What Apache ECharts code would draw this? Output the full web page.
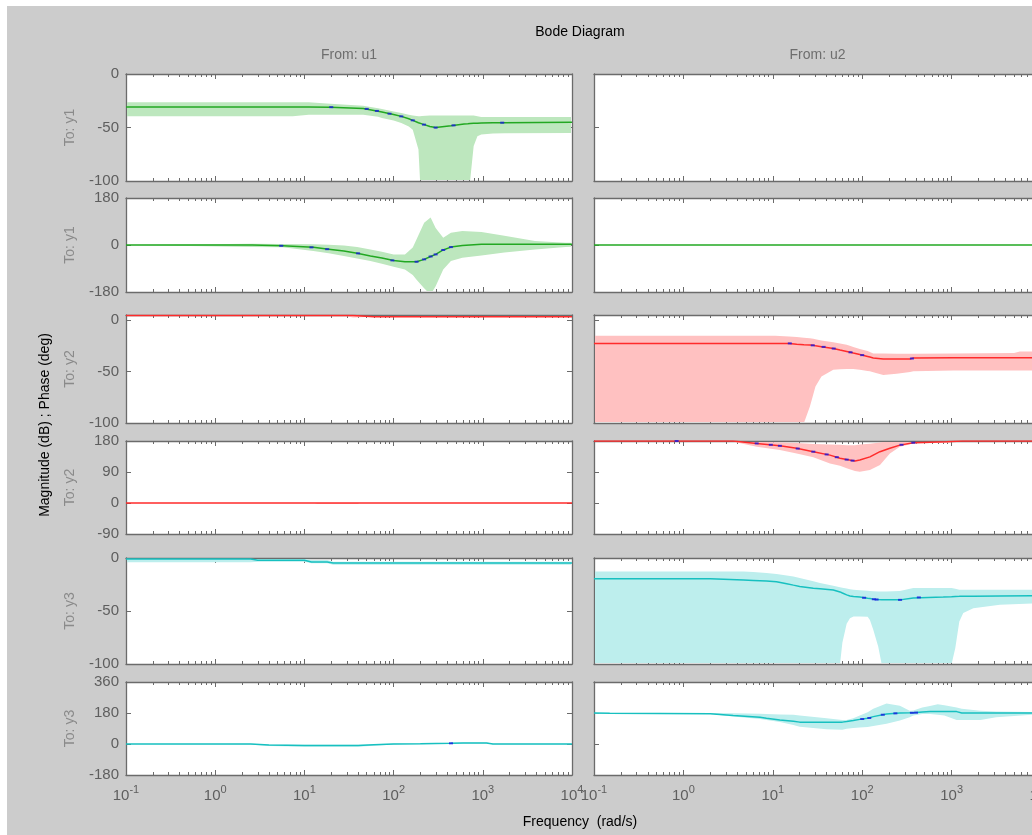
<!DOCTYPE html>
<html><head><meta charset="utf-8">
<script src="https://cdn.jsdelivr.net/npm/echarts@6/dist/echarts.min.js"></script>
<style>
html,body{margin:0;padding:0;background:#fff;}
#wrap{position:relative;width:1032px;height:835px;overflow:hidden;background:#fff;}
#bg{position:absolute;left:7px;top:6px;right:0;bottom:0;background:#cccccc;}
#chart{position:absolute;left:0;top:0;width:1032px;height:835px;}
</style></head><body>
<div id="wrap"><div id="bg"></div><div id="chart"></div></div>
<script>
// ---------------- DATA ----------------
const titleText = 'Bode Diagram';
const inputNames = ['u1', 'u2'];
const outputNames = ['y1', 'y2', 'y3'];
const xLabelText = 'Frequency  (rad/s)';
const yLabelText = 'Magnitude (dB) ; Phase (deg)';
const xMin = 0.1, xMax = 10000;
const xTickExponents = [-1, 0, 1, 2, 3, 4];
const magTicks = [-100, -50, 0];
const phaseTicksY1 = [-180, 0, 180];
const phaseTicksY2 = [-90, 0, 90, 180];
const phaseTicksY3 = [-180, 0, 180, 360];

// From u1 -> y1 magnitude
const fY1U1Mag = [0.1, 7.4, 11.2, 19.5, 45.6, 67, 74, 100, 122, 148, 164, 190, 198, 208, 255, 296, 440, 617, 680, 720, 790, 870, 960, 1300, 1740, 10000];
const nomY1U1Mag = [-30.9, -30.9, -30.9, -31.0, -32.2, -34.8, -35.5, -37.8, -39.6, -41.8, -43.3, -45.5, -46.0, -46.6, -49.0, -50.1, -48.3, -46.7, -46.5, -46.3, -46.1, -46.0, -45.8, -45.6, -45.5, -45.2];
const upY1U1Mag = [-26.3, -26.3, -26.3, -27.8, -29.7, -31.9, -32.7, -35.0, -36.5, -38.0, -38.8, -39.5, -39.6, -39.3, -38.7, -38.7, -38.7, -38.7, -38.7, -38.7, -38.7, -39.5, -40.2, -40.2, -40.2, -40.2];
const loY1U1Mag = [-39.6, -39.6, -38.0, -38.0, -38.0, -40.0, -41.1, -43.5, -45.8, -49.0, -52.0, -70.5, -100, -140, -140, -140, -140, -140, -140, -100, -67.4, -58.2, -56.5, -55.7, -55.4, -55.1];
const mkfY1U1Mag = [20, 50, 65, 90, 122, 164, 219, 296, 470, 1650];
const mkvY1U1Mag = [-31.0, -32.6, -34.5, -37.1, -39.6, -43.3, -47.3, -50.1, -48.0, -45.5];

// From u1 -> y1 phase
const fY1U1Ph = [0.1, 2.6, 5.7, 12.6, 18.7, 27.7, 39, 55, 74, 100, 134, 164, 181, 220, 260, 296, 360, 439, 590, 966, 1746, 3846, 8470, 10000];
const nomY1U1Ph = [0, 0, -3, -9, -16, -23, -32, -42, -50, -59, -64, -64, -64, -55, -44, -36, -19, -8, -2, 3, 3, 3, 3, 3];
const upY1U1Ph = [0, 5, 4, 3, 1, -2, -8, -17, -26, -36, -36, -10, 22, 85, 105, 65, 28, 47, 54, 50, 35, 15, 9, 8];
const loY1U1Ph = [0, -8, -9, -23, -32, -42, -52, -61, -72, -83, -94, -115, -133, -166, -190, -158, -94, -61, -49, -40, -29, -17, -8, -7];
const mkfY1U1Ph = [5.5, 12, 18, 40, 97, 181, 220, 260, 296, 360, 439];
const mkvY1U1Ph = [-3, -9, -16, -32, -59, -64, -55, -44, -36, -19, -8];

// From u1 -> y2 magnitude
const fY2U1Mag = [0.1, 28, 35, 36, 60, 10000];
const nomY2U1Mag = [4.4, 4.4, 4.4, 3.4, 3.4, 3.4];
const upY2U1Mag = [4.4, 4.4, 4.4, 4.4, 3.4, 3.4];
const loY2U1Mag = [4.4, 4.4, 2.6, 2.6, 3.4, 3.4];

// From u1 -> y2 phase
const fY2U1Ph = [0.1, 13, 14, 40, 41, 10000];
const nomY2U1Ph = [0, 0, 0, 0, 0, 0];
const upY2U1Ph = [0, 0, 0, 0, 0, 0];
const loY2U1Ph = [0, 0, -3, -3, 0, 0];

// From u1 -> y3 magnitude
const fY3U1Mag = [0.1, 2.5, 3, 10, 12, 18, 21, 10000];
const nomY3U1Mag = [-1, -1, -2.2, -2.2, -3.8, -3.8, -4.7, -4.7];
const upY3U1Mag = [0, 0, -0.5, -0.5, -2, -2, -3.5, -3.5];
const loY3U1Mag = [-4, -4, -3.5, -3.5, -5, -5, -6.3, -6.3];

// From u1 -> y3 phase
const fY3U1Ph = [0.1, 2.5, 4, 10, 40, 60, 100, 200, 440, 600, 1100, 1300, 10000];
const nomY3U1Ph = [0, 0, -6, -9, -9, -5, 0, 1, 4, 6, 6, 0, 0];
const upY3U1Ph = [0, 1, -3, -5, -5, -2, 3, 4, 7, 8, 8, 2, 1];
const loY3U1Ph = [0, -3, -12, -16, -16, -10, -3, -2, 1, 3, 3, -2, -1];
const mkfY3U1Ph = [440];
const mkvY3U1Ph = [4];

// From u2 -> y1 phase (magnitude panel is empty)
const fY1U2Ph = [0.1, 10000];
const nomY1U2Ph = [0, 0];

// From u2 -> y2 magnitude
const fY2U2Mag = [0.1, 10.6, 15.2, 18.5, 22.3, 26, 28.4, 30, 35, 47.5, 56.5, 67, 74, 79.5, 94, 115, 122, 133, 172, 243, 343, 373, 1050, 5000, 5800, 10000];
const nomY2U2Mag = [-22.6, -22.6, -22.6, -23.5, -24.0, -24.2, -24.5, -25.0, -25.8, -27.5, -29.0, -30.4, -31.3, -32.0, -33.5, -35.3, -35.9, -36.8, -37.8, -37.8, -37.8, -36.8, -36.5, -36.5, -36.5, -36.5];
const upY2U2Mag = [-15.2, -15.2, -15.8, -16.3, -17.0, -17.7, -18.2, -18.6, -19.7, -21.4, -22.7, -24.0, -25.2, -26.2, -28.0, -30.1, -31.0, -32.4, -32.5, -32.6, -32.7, -32.7, -32.5, -32.0, -30.4, -30.4];
const loY2U2Mag = [-150, -150, -150, -150, -100, -83.9, -72, -64.4, -54.7, -48.2, -47.7, -47.5, -47.5, -47.5, -48.3, -49.5, -49.8, -50.7, -53.4, -52.1, -50.3, -49.8, -48.9, -48.9, -48.9, -48.9];
const mkfY2U2Mag = [15.5, 28, 37, 48, 74, 100, 360];
const mkvY2U2Mag = [-22.6, -24.5, -26.0, -27.6, -31.3, -34.0, -37.3];

// From u2 -> y2 phase
const fY2U2Ph = [0.1, 0.84, 3.6, 6.6, 12, 18.5, 28.4, 43.6, 56.5, 67, 83, 94, 122, 158, 204, 264, 373, 880, 1300, 10000];
const nomY2U2Ph = [180, 180, 180, 173, 166, 159, 149, 139, 130, 126, 122, 125, 134, 149, 159, 168, 175, 178, 180, 180];
const upY2U2Ph = [180, 180, 180, 178, 176, 174, 171, 170, 169, 168, 168, 170, 172, 176, 180, 180, 180, 180, 180, 180];
const loY2U2Ph = [180, 180, 178, 163, 154, 144, 133, 115, 108, 101, 93, 91, 96, 110, 144, 163, 173, 175, 180, 180];
const mkfY2U2Ph = [0.84, 6.6, 9.5, 12, 19, 28.4, 40, 52, 67, 78, 275, 373];
const mkvY2U2Ph = [180, 173, 169, 166, 158, 149, 141, 133, 126, 123, 169, 175];

// From u2 -> y3 magnitude
const fY3U2Mag = [0.1, 2, 4.7, 6.05, 8.5, 11, 14.3, 17, 20, 28.4, 33.7, 47.5, 56.5, 60, 67, 73, 80, 94, 115, 122, 133, 151, 165, 187, 264, 373, 808, 1000, 1100, 1220, 1350, 1750, 3470, 10000];
const nomY3U2Mag = [-19.6, -19.6, -20.8, -21.2, -21.8, -22.4, -24.3, -25.6, -26.8, -28.5, -29.0, -30.2, -32.0, -33.0, -34.8, -35.8, -36.3, -36.9, -38.0, -38.3, -38.8, -39.2, -39.4, -39.5, -39.5, -37.8, -36.9, -36.5, -36.3, -36.2, -36.1, -36.0, -35.8, -35.7];
const upY3U2Mag = [-12.7, -12.7, -12.7, -13.3, -14.2, -15.0, -16.5, -17.4, -18.8, -22.0, -23.5, -26.2, -27.5, -28.0, -28.8, -29.4, -30.0, -30.5, -31.0, -31.2, -31.4, -31.6, -31.6, -31.6, -31.2, -28.4, -28.4, -28.4, -29.0, -30.0, -30.0, -30.0, -30.0, -30.0];
const loY3U2Mag = [-150, -150, -150, -150, -150, -150, -150, -150, -150, -150, -150, -150, -100, -80, -62, -56.8, -55.2, -55.2, -55.5, -58.4, -67.8, -83.6, -100, -150, -150, -150, -150, -100, -85, -60, -52, -47.3, -44.2, -42.6];
const mkfY3U2Mag = [105, 135, 145, 265, 430];
const mkvY3U2Mag = [-37.5, -38.9, -39.2, -39.5, -37.2];

// From u2 -> y3 phase
const fY3U2Ph = [0.1, 0.15, 2, 3.6, 7.2, 8.5, 12, 17, 20, 40, 60, 67, 79.5, 94, 115, 133, 187, 264, 340, 373, 470, 573, 700, 830, 1140, 1300, 2100, 3150, 10000];
const nomY3U2Ph = [180, 178, 176, 166, 155, 150, 140, 132, 127, 127, 127, 130, 136, 143, 150, 159, 174, 180, 181, 182, 186, 189, 189, 189, 188, 180, 180, 180, 180];
const upY3U2Ph = [180, 180, 180, 178, 176, 174, 172, 170, 165, 150, 140, 140, 150, 165, 185, 205, 235, 222, 193, 195, 212, 220, 231, 225, 212, 205, 193, 188, 185];
const loY3U2Ph = [175, 175, 174, 160, 145, 140, 128, 110, 100, 85, 83, 88, 93, 96, 98, 105, 117, 136, 155, 165, 174, 174, 170, 165, 140, 140, 140, 155, 174];
const mkfY3U2Ph = [100, 120, 170, 235, 360, 400];
const mkvY3U2Ph = [145, 151, 170, 178, 181, 182];

// ---------------- STYLE / LAYOUT ----------------
const FONT = '"Liberation Sans", Arial, sans-serif';
const AXC = '#6b6b6b';
const TXT = '#5e5e5e';
const lineColors = ['#22a822', '#ff2b2b', '#17c0c0'];
const bandColors = ['#bde7be', '#ffc1c1', '#bdeeed'];
const markColor = '#1818e0';
const rowTops = [74, 198, 315, 441, 558, 682];
const rowHeights = [107, 94, 108, 93, 106, 93];
const colLefts = [126, 594];
const colWidths = [446, 447];
const yRanges = [[-100, 0], [-180, 180], [-100, 5], [-90, 180], [-100, 0], [-180, 360]];
const yIntervals = [50, 180, 50, 90, 50, 180];
const yTicks = [magTicks, phaseTicksY1, magTicks, phaseTicksY2, magTicks, phaseTicksY3];

const panels = [
  {row: 0, col: 0, f: fY1U1Mag, nom: nomY1U1Mag, up: upY1U1Mag, lo: loY1U1Mag, mf: mkfY1U1Mag, mv: mkvY1U1Mag},
  {row: 1, col: 0, f: fY1U1Ph, nom: nomY1U1Ph, up: upY1U1Ph, lo: loY1U1Ph, mf: mkfY1U1Ph, mv: mkvY1U1Ph},
  {row: 2, col: 0, f: fY2U1Mag, nom: nomY2U1Mag, up: upY2U1Mag, lo: loY2U1Mag},
  {row: 3, col: 0, f: fY2U1Ph, nom: nomY2U1Ph, up: upY2U1Ph, lo: loY2U1Ph},
  {row: 4, col: 0, f: fY3U1Mag, nom: nomY3U1Mag, up: upY3U1Mag, lo: loY3U1Mag},
  {row: 5, col: 0, f: fY3U1Ph, nom: nomY3U1Ph, up: upY3U1Ph, lo: loY3U1Ph, mf: mkfY3U1Ph, mv: mkvY3U1Ph},
  {row: 1, col: 1, f: fY1U2Ph, nom: nomY1U2Ph},
  {row: 2, col: 1, f: fY2U2Mag, nom: nomY2U2Mag, up: upY2U2Mag, lo: loY2U2Mag, mf: mkfY2U2Mag, mv: mkvY2U2Mag},
  {row: 3, col: 1, f: fY2U2Ph, nom: nomY2U2Ph, up: upY2U2Ph, lo: loY2U2Ph, mf: mkfY2U2Ph, mv: mkvY2U2Ph},
  {row: 4, col: 1, f: fY3U2Mag, nom: nomY3U2Mag, up: upY3U2Mag, lo: loY3U2Mag, mf: mkfY3U2Mag, mv: mkvY3U2Mag},
  {row: 5, col: 1, f: fY3U2Ph, nom: nomY3U2Ph, up: upY3U2Ph, lo: loY3U2Ph, mf: mkfY3U2Ph, mv: mkvY3U2Ph}
];

const minorTickVals = [];
xTickExponents.slice(0, -1).forEach(function (e) {
  for (let k = 2; k <= 9; k++) minorTickVals.push(e + Math.log10(k));
});

const grids = [], xAxes = [], yAxes = [], series = [];
for (let r = 0; r < 6; r++) {
  for (let c = 0; c < 2; c++) {
    const g = grids.length;
    grids.push({left: colLefts[c], top: rowTops[r], width: colWidths[c], height: rowHeights[r],
      show: true, backgroundColor: '#ffffff', borderWidth: 0, containLabel: false, outerBoundsMode: 'none'});
    const lastRow = r === 5;
    ['bottom', 'top'].forEach(function (pos) {
      xAxes.push({type: 'log', logBase: 10, gridIndex: g, position: pos, min: xMin, max: xMax,
        axisLine: {show: true, onZero: false, lineStyle: {color: AXC, width: 1.3}},
        axisTick: {show: true, inside: true, length: 5, lineStyle: {color: AXC, width: 1}},
        axisLabel: {show: lastRow && pos === 'bottom', margin: 9,
          formatter: function (v) { return '{b|10}{s|' + Math.round(Math.log10(v)) + '}'; },
          rich: {b: {fontSize: 15, fontFamily: FONT, color: TXT, lineHeight: 18},
                 s: {fontSize: 11, fontFamily: FONT, color: TXT, padding: [0, 0, 12, 0]}}},
        splitLine: {show: false}});
    });
    ['bottom', 'top'].forEach(function (pos) {
      xAxes.push({type: 'value', gridIndex: g, position: pos, min: -1, max: 4,
        axisLine: {show: false, onZero: false},
        axisTick: {show: true, inside: true, length: 3, customValues: minorTickVals, lineStyle: {color: AXC, width: 1}},
        axisLabel: {show: false}, splitLine: {show: false}});
    });
    ['left', 'right'].forEach(function (pos) {
      yAxes.push({type: 'value', gridIndex: g, position: pos, min: yRanges[r][0], max: yRanges[r][1], interval: yIntervals[r],
        axisLine: {show: true, onZero: false, lineStyle: {color: AXC, width: 1.3}},
        axisTick: {show: true, inside: true, length: 5, customValues: yTicks[r], lineStyle: {color: AXC, width: 1}},
        axisLabel: {show: c === 0 && pos === 'left', customValues: yTicks[r], margin: 7,
          fontSize: 15, fontFamily: FONT, color: TXT,
          formatter: function (v) { return yTicks[r].indexOf(v) >= 0 ? String(v) : ''; }},
        splitLine: {show: false}});
    });
  }
}

panels.forEach(function (p) {
  const g = p.row * 2 + p.col;
  const out = Math.floor(p.row / 2);
  const xi = 4 * g, yi = 2 * g;
  if (p.lo) {
    series.push({type: 'custom', xAxisIndex: xi, yAxisIndex: yi, silent: true, z: 1, clip: false,
      data: [[p.f[0], p.nom[0]]],
      renderItem: function (params, api) {
        const pts = [];
        for (let k = 0; k < p.f.length; k++) pts.push(api.coord([p.f[k], p.up[k]]));
        for (let k = p.f.length - 1; k >= 0; k--) pts.push(api.coord([p.f[k], p.lo[k]]));
        const cs = params.coordSys;
        return {type: 'polygon', shape: {points: pts},
          clipPath: {type: 'rect', shape: {x: cs.x + 1, y: cs.y + 1, width: cs.width - 2, height: cs.height - 2}},
          style: {fill: bandColors[out], stroke: null}};
      }});
  }
  series.push({type: 'line', xAxisIndex: xi, yAxisIndex: yi, symbol: 'none', silent: true, z: 3,
    lineStyle: {color: lineColors[out], width: 1.5},
    data: p.f.map(function (f, k) { return [f, p.nom[k]]; })});
  if (p.mf) {
    series.push({type: 'scatter', xAxisIndex: xi, yAxisIndex: yi, symbol: 'rect', symbolSize: [4, 2], silent: true, z: 4,
      itemStyle: {color: markColor},
      data: p.mf.map(function (f, k) { return [f, p.mv[k]]; })});
  }
});

const graphics = [];
graphics.push({type: 'text', x: 580, y: 32, style: {text: titleText, font: '14px ' + FONT, fill: '#000', textAlign: 'center', textVerticalAlign: 'middle'}});
inputNames.forEach(function (n, c) {
  graphics.push({type: 'text', x: colLefts[c] + colWidths[c] / 2, y: 55, style: {text: 'From: ' + n, font: '14px ' + FONT, fill: '#6e6e6e', textAlign: 'center', textVerticalAlign: 'middle'}});
});
for (let r = 0; r < 6; r++) {
  graphics.push({type: 'text', x: 70, y: rowTops[r] + rowHeights[r] / 2, rotation: Math.PI / 2,
    style: {text: 'To: ' + outputNames[Math.floor(r / 2)], font: '14px ' + FONT, fill: '#8a8a8a', textAlign: 'center', textVerticalAlign: 'middle'}});
}
graphics.push({type: 'text', x: 45, y: 425, rotation: Math.PI / 2, style: {text: yLabelText, font: '14px ' + FONT, fill: '#000', textAlign: 'center', textVerticalAlign: 'middle'}});
graphics.push({type: 'text', x: 580, y: 822, style: {text: xLabelText, font: '14px ' + FONT, fill: '#000', textAlign: 'center', textVerticalAlign: 'middle'}});

const chart = echarts.init(document.getElementById('chart'), null, {renderer: 'canvas'});
chart.setOption({
  backgroundColor: 'transparent',
  animation: false,
  grid: grids,
  xAxis: xAxes,
  yAxis: yAxes,
  series: series,
  graphic: graphics
});
</script></body></html>
